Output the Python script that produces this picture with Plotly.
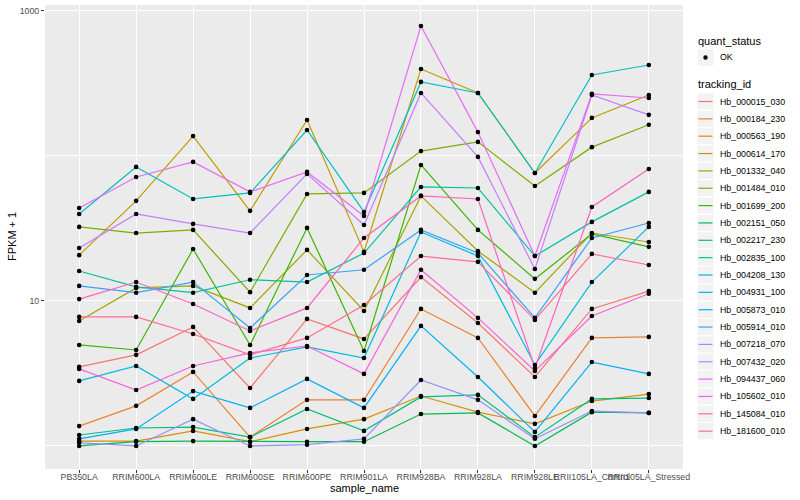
import plotly.graph_objects as go

# ---------------- data ----------------
samples = ["PB350LA", "RRIM600LA", "RRIM600LE", "RRIM600SE", "RRIM600PE", "RRIM901LA",
           "RRIM928BA", "RRIM928LA", "RRIM928LE", "RRII105LA_Control", "RRII105LA_Stressed"]

tracking_ids = ["Hb_000015_030", "Hb_000184_230", "Hb_000563_190", "Hb_000614_170",
                "Hb_001332_040", "Hb_001484_010", "Hb_001699_200", "Hb_002151_050",
                "Hb_002217_230", "Hb_002835_100", "Hb_004208_130", "Hb_004931_100",
                "Hb_005873_010", "Hb_005914_010", "Hb_007218_070", "Hb_007432_020",
                "Hb_094437_060", "Hb_105602_010", "Hb_145084_010", "Hb_181600_010"]

colors = ["#F8766D", "#EA8331", "#D89000", "#C09B00", "#A3A500", "#7CAE00", "#39B600",
          "#00BB4E", "#00BF7D", "#00C1A3", "#00BFC4", "#00BAE0", "#00B0F6", "#35A2FF",
          "#9590FF", "#C77CFF", "#E76BF3", "#FA62DB", "#FF62BC", "#FF6C91"]

# FPKM + 1 per sample
hb_000015_030 = [3.51, 4.25, 6.62, 2.51, 7.52, 5.47, 14.6, 7.05, 2.99, 8.81, 11.7]
hb_000184_230 = [1.37, 1.89, 3.24, 1.15, 2.08, 2.08, 8.81, 5.56, 1.61, 5.56, 5.65]
hb_000563_190 = [1.08, 1.08, 1.27, 1.07, 1.31, 1.53, 2.21, 1.71, 1.42, 2.04, 2.28]
hb_000614_170 = [20.7, 49.0, 137, 41.8, 177, 21.8, 398, 272, 76.3, 183, 263]
hb_001332_040 = [7.28, 12.3, 12.7, 8.95, 22.5, 8.53, 53.0, 22.1, 11.4, 29.4, 25.5]
hb_001484_010 = [32.4, 29.4, 30.9, 11.5, 54.7, 55.6, 108, 125, 62.1, 115, 164]
hb_001699_200 = [4.97, 4.59, 22.8, 4.97, 31.9, 4.52, 86.7, 30.9, 14.2, 29.0, 23.6]
hb_002151_050 = [1.0, 1.07, 1.08, 1.07, 1.07, 1.07, 1.66, 1.69, 1.0, 1.71, 1.69]
hb_002217_230 = [1.19, 1.33, 1.35, 1.15, 1.80, 1.27, 2.18, 2.25, 1.15, 2.11, 2.14]
hb_002835_100 = [16.1, 12.5, 11.4, 14.0, 13.5, 21.4, 61.1, 60.1, 20.4, 35.1, 56.5]
hb_004208_130 = [39.8, 84.0, 50.5, 55.6, 151, 41.1, 324, 272, 76.3, 362, 424]
hb_004931_100 = [2.81, 3.56, 2.11, 4.04, 4.82, 4.04, 29.9, 20.4, 3.62, 13.5, 32.4]
hb_005873_010 = [1.12, 1.31, 2.39, 1.83, 2.90, 1.83, 6.73, 2.99, 1.25, 3.79, 3.14]
hb_005914_010 = [12.7, 11.4, 13.5, 6.51, 15.1, 16.4, 30.9, 21.4, 7.64, 27.2, 34.5]
hb_007218_070 = [1.05, 1.0, 1.53, 1.0, 1.02, 1.12, 2.85, 2.08, 1.12, 1.74, 1.69]
hb_007432_020 = [23.2, 39.8, 34.0, 29.4, 75.2, 33.4, 272, 98.5, 16.6, 263, 192]
hb_094437_060 = [43.8, 71.6, 91.0, 56.5, 77.6, 38.6, 788, 146, 20.4, 268, 251]
hb_105602_010 = [3.40, 2.43, 3.56, 4.38, 4.89, 3.14, 16.4, 7.64, 3.29, 7.88, 11.2]
hb_145084_010 = [10.3, 13.5, 9.53, 6.21, 8.95, 27.2, 53.0, 50.5, 3.45, 44.5, 81.3]
hb_181600_010 = [7.76, 7.76, 5.92, 4.25, 5.56, 9.38, 20.4, 18.6, 7.40, 21.1, 17.7]

series = [hb_000015_030, hb_000184_230, hb_000563_190, hb_000614_170, hb_001332_040,
          hb_001484_010, hb_001699_200, hb_002151_050, hb_002217_230, hb_002835_100,
          hb_004208_130, hb_004931_100, hb_005873_010, hb_005914_010, hb_007218_070,
          hb_007432_020, hb_094437_060, hb_105602_010, hb_145084_010, hb_181600_010]

# ---------------- figure ----------------
W, H = 800, 500
L, R, T, B = 45, 683, 5, 469
FONT = "Liberation Sans, Arial, sans-serif"


def px(x):
    return (x - L) / (R - L)


def py(y):
    return (B - y) / (B - T)


fig = go.Figure()

for name, col, vals in zip(tracking_ids, colors, series):
    fig.add_trace(go.Scatter(x=samples, y=vals, mode="lines", name=name,
                             line=dict(color=col, width=1.2), showlegend=False,
                             hoverinfo="skip"))

all_x, all_y = [], []
for vals in series:
    all_x += samples
    all_y += vals
fig.add_trace(go.Scatter(x=all_x, y=all_y, mode="markers", showlegend=False,
                         marker=dict(color="black", size=4.6), hoverinfo="skip"))

shapes = []
annotations = []

# axis titles
annotations.append(dict(text="sample_name", x=0.5, y=py(488), xref="paper", yref="paper",
                        showarrow=False, xanchor="center", yanchor="middle",
                        font=dict(size=11, color="black", family=FONT)))
annotations.append(dict(text="FPKM + 1", x=px(12), y=py(237), xref="paper", yref="paper",
                        showarrow=False, xanchor="center", yanchor="middle", textangle=-90,
                        font=dict(size=11, color="black", family=FONT)))

# legend: quant_status
annotations.append(dict(text="quant_status", x=px(696), y=py(41), xref="paper", yref="paper",
                        showarrow=False, xanchor="left", yanchor="middle",
                        font=dict(size=11, color="black", family=FONT)))
shapes.append(dict(type="rect", xref="paper", yref="paper", x0=px(697), x1=px(714),
                   y0=py(49), y1=py(66), fillcolor="#F2F2F2", line=dict(color="white", width=1)))
shapes.append(dict(type="circle", xref="paper", yref="paper", x0=px(703.3), x1=px(707.7),
                   y0=py(55.3), y1=py(59.7), fillcolor="black", line=dict(color="black", width=0)))
annotations.append(dict(text="OK", x=px(718), y=py(57.5), xref="paper", yref="paper",
                        showarrow=False, xanchor="left", yanchor="middle",
                        font=dict(size=8.8, color="black", family=FONT)))

# legend: tracking_id
annotations.append(dict(text="tracking_id", x=px(696), y=py(84), xref="paper", yref="paper",
                        showarrow=False, xanchor="left", yanchor="middle",
                        font=dict(size=11, color="black", family=FONT)))
for i, (name, col) in enumerate(zip(tracking_ids, colors)):
    c = 101.5 + i * 17.35
    shapes.append(dict(type="rect", xref="paper", yref="paper", x0=px(697), x1=px(714),
                       y0=py(c - 8.6), y1=py(c + 8.6), fillcolor="#F2F2F2",
                       line=dict(color="white", width=1)))
    shapes.append(dict(type="line", xref="paper", yref="paper", x0=px(698.5), x1=px(712.5),
                       y0=py(c), y1=py(c), line=dict(color=col, width=1.2)))
    annotations.append(dict(text=name, x=px(718), y=py(c), xref="paper", yref="paper",
                            showarrow=False, xanchor="left", yanchor="middle",
                            font=dict(size=8.8, color="black", family=FONT)))

fig.update_layout(
    width=W, height=H,
    margin=dict(l=L, r=W - R, t=T, b=H - B, pad=0),
    paper_bgcolor="white", plot_bgcolor="#EBEBEB",
    font=dict(family=FONT, size=8.8, color="#4D4D4D"),
    showlegend=False,
    shapes=shapes, annotations=annotations,
)

fig.update_xaxes(type="category", categoryorder="array", categoryarray=samples,
                 range=[-0.6, 10.6], tickmode="array", tickvals=samples, ticktext=samples,
                 tickangle=0, ticks="outside", ticklen=3, tickcolor="#333333", tickwidth=1,
                 ticklabelstandoff=-4,
                 showgrid=True, gridcolor="white", gridwidth=1.1, zeroline=False,
                 showline=False, automargin=False,
                 tickfont=dict(size=8.8, color="#4D4D4D", family=FONT))

fig.update_yaxes(type="log", range=[-0.159, 3.041], tickmode="array",
                 tickvals=[10, 1000], ticktext=["10", "1000"],
                 ticks="outside", ticklen=3, tickcolor="#333333", tickwidth=1,
                 showgrid=True, gridcolor="white", gridwidth=1.1, zeroline=False,
                 showline=False, automargin=False,
                 minor=dict(tickvals=[1, 100], showgrid=True, gridcolor="white",
                            gridwidth=0.55, ticklen=0),
                 tickfont=dict(size=8.8, color="#4D4D4D", family=FONT))

fig.write_html("out.html",
               config={"displayModeBar": False},
               post_script="document.body.style.margin='0px';"
                           "document.documentElement.style.overflow='hidden';")
